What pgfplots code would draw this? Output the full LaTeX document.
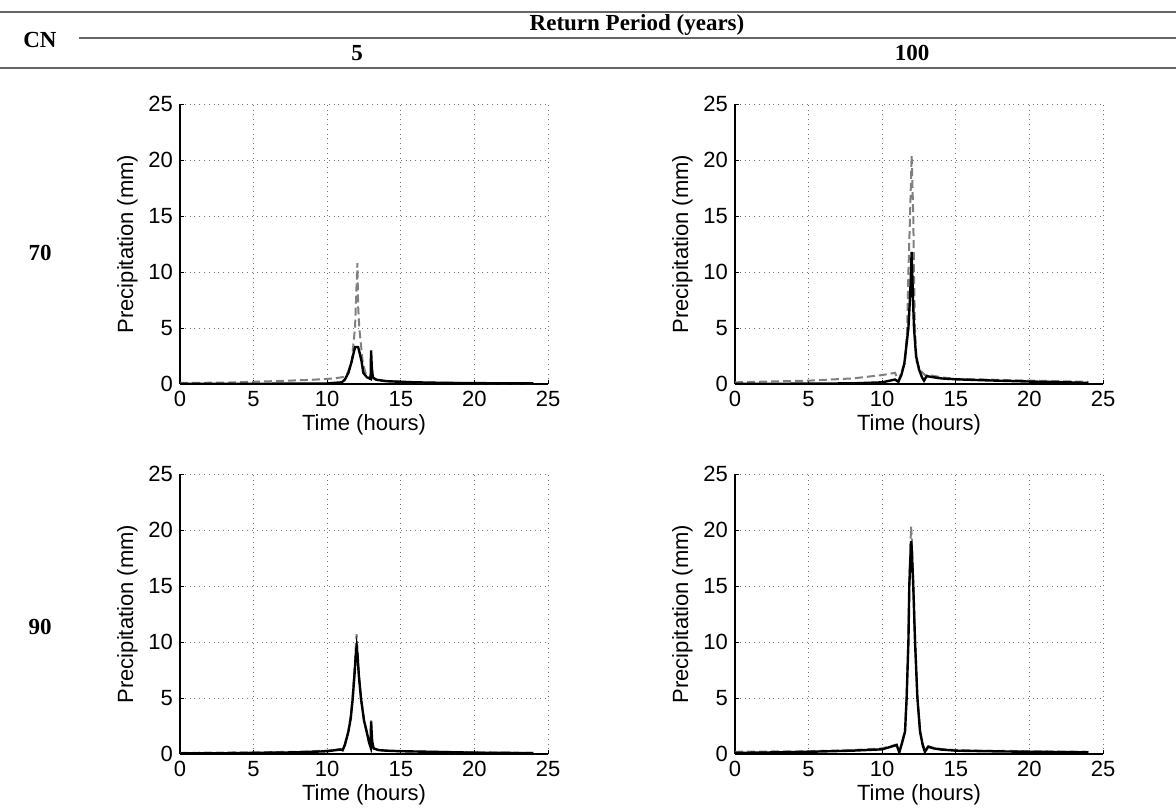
\documentclass[border=0pt]{standalone}
\usepackage{fontspec}
\setmainfont{Liberation Sans}
\newfontfamily\hdr{Liberation Serif}
\usepackage{pgfplots}
\pgfplotsset{compat=1.18}
\pgfplotsset{myax/.style={
  width=184pt,height=140pt,scale only axis,
  xmin=0,xmax=25,ymin=0,ymax=25,
  xtick={0,5,...,25}, ytick={0,5,...,25},
  grid=major, grid style={dotted, black!55, line width=0.5pt},
  axis lines*=left, axis line style={black, line width=0.6pt, -},
  tick align=inside, major tick length=2pt, tick style={black, line width=0.5pt},
  ticklabel style={font=\fontsize{11}{13}\selectfont},
  label style={font=\fontsize{11}{13}\selectfont},
  xlabel={Time (hours)}, ylabel={Precipitation (mm)},
  xlabel style={yshift=3pt},
  ylabel style={yshift=-1.5pt},
  /pgf/number format/assume math mode=true,
  anchor=south west,
},
obs/.style={black!50, line width=1pt, dash pattern=on 4pt off 2pt},
eff/.style={black, line width=1.2pt},
}
\begin{document}
\begin{tikzpicture}
\useasboundingbox (0,0) rectangle (588pt,-404.5pt);
% header table
\draw[black!60, line width=1pt] (0,-6pt) -- (588pt,-6pt);
\draw[black!60, line width=0.8pt] (39.5pt,-19pt) -- (588pt,-19pt);
\draw[black!60, line width=1pt] (0,-34pt) -- (588pt,-34pt);
\node[font=\hdr\bfseries\fontsize{11.5}{13}\selectfont] at (20pt,-20pt) {CN};
\node[font=\hdr\bfseries\fontsize{11.5}{13}\selectfont] at (318.5pt,-12.5pt) {Return Period (years)};
\node[font=\hdr\bfseries\fontsize{11.5}{13}\selectfont] at (178.5pt,-26.5pt) {5};
\node[font=\hdr\bfseries\fontsize{11.5}{13}\selectfont] at (456pt,-26.5pt) {100};
\node[font=\hdr\bfseries\fontsize{11.5}{13}\selectfont] at (20pt,-126.5pt) {70};
\node[font=\hdr\bfseries\fontsize{11.5}{13}\selectfont] at (20pt,-313.5pt) {90};

% CN 70, T 5
\begin{axis}[myax, at={(90pt,-192pt)}]
\addplot[obs] coordinates {(0,0.1) (3,0.12) (5,0.2) (7,0.28) (9,0.38) (10.5,0.5) (11.2,0.65) (11.4,1.0) (11.66,2) (11.89,5) (12.0,9) (12.05,10.8) (12.1,7) (12.18,5) (12.41,2) (12.6,1.0) (12.9,0.6) (13.2,0.45) (13.5,0.35) (14,0.28) (15,0.2) (16,0.15) (18,0.1) (20,0.08) (24,0.05)};
\addplot[eff] coordinates {(0,0.02) (5,0.02) (10,0.05) (11.0,0.15) (11.2,0.4) (11.44,1) (11.66,2) (11.8,2.8) (11.9,3.3) (12.1,3.3) (12.2,2.8) (12.34,2) (12.45,1) (12.7,0.6) (12.95,0.45) (12.98,3.0) (13.03,1.5) (13.1,0.6) (13.3,0.4) (13.5,0.35) (14,0.25) (15,0.2) (16,0.15) (18,0.1) (20,0.08) (22,0.06) (24,0.05)};
\end{axis}

% CN 70, T 100
\begin{axis}[myax, at={(367.5pt,-192pt)}]
\addplot[obs] coordinates {(0,0.15) (5,0.3) (8,0.5) (10,0.8) (10.87,1.0) (11.1,0.3) (11.3,1.0) (11.55,2) (11.7,5) (11.78,10) (11.89,15) (12.0,20.4) (12.11,15) (12.16,10) (12.22,5) (12.34,2) (12.6,1.2) (12.9,0.8) (13.2,0.8) (14,0.6) (15,0.45) (17,0.4) (20,0.3) (22,0.25) (24,0.2)};
\addplot[eff] coordinates {(0,0.02) (5,0.03) (8,0.06) (10,0.15) (10.87,0.4) (11.1,0.2) (11.3,0.8) (11.5,1.8) (11.65,3.5) (11.78,5) (11.9,8) (12.0,11.8) (12.08,8) (12.16,5) (12.3,2.5) (12.5,1.3) (12.7,0.6) (12.84,0.3) (13.02,0.7) (13.5,0.6) (14,0.5) (15,0.42) (17,0.33) (20,0.22) (22,0.17) (24,0.1)};
\end{axis}

% CN 90, T 5
\begin{axis}[myax, at={(90pt,-377pt)}]
\addplot[obs] coordinates {(0,0.1) (5,0.15) (8,0.2) (10,0.3) (10.9,0.45) (11.05,0.3) (11.2,0.9) (11.44,2.1) (11.6,3.4) (11.73,5.2) (11.85,7.5) (11.95,9.8) (12.0,10.7) (12.05,9.5) (12.15,7.2) (12.3,5) (12.5,3) (12.68,2) (12.85,1) (12.95,0.7) (12.98,3.0) (13.05,1.2) (13.15,0.5) (13.5,0.35) (14,0.3) (15,0.25) (17,0.2) (20,0.15) (24,0.1)};
\addplot[eff] coordinates {(0,0.05) (3,0.07) (5,0.1) (8,0.15) (10,0.25) (10.9,0.4) (11.05,0.36) (11.2,0.8) (11.44,2) (11.6,3.2) (11.73,4.9) (11.85,7) (11.95,9) (12.0,9.6) (12.05,9) (12.15,7) (12.3,4.9) (12.5,3) (12.68,2) (12.85,1.0) (12.95,0.6) (12.98,2.9) (13.05,1.2) (13.15,0.5) (13.5,0.35) (14,0.3) (15,0.25) (17,0.2) (20,0.12) (24,0.08)};
\end{axis}

% CN 90, T 100
\begin{axis}[myax, at={(367.5pt,-377pt)}]
\addplot[obs] coordinates {(0,0.2) (5,0.25) (8,0.35) (10,0.5) (10.98,0.85) (11.16,0.2) (11.35,1.1) (11.55,2.1) (11.66,5.2) (11.78,10.5) (11.84,15.5) (11.96,20.3) (12.0,19.5) (12.11,15.5) (12.23,10.5) (12.39,5.2) (12.57,2.1) (12.75,0.9) (12.9,0.3) (13.13,0.7) (13.5,0.55) (14,0.45) (15,0.35) (17,0.3) (20,0.25) (24,0.2)};
\addplot[eff] coordinates {(0,0.1) (3,0.15) (5,0.2) (8,0.3) (10,0.42) (10.98,0.8) (11.16,0.15) (11.35,1.0) (11.55,2) (11.66,5) (11.78,10) (11.84,15) (11.96,19) (12.0,18.5) (12.11,15) (12.23,10) (12.39,5) (12.57,2) (12.75,0.8) (12.9,0.2) (13.13,0.65) (13.5,0.5) (14,0.4) (15,0.3) (17,0.25) (20,0.2) (24,0.15)};
\end{axis}
\end{tikzpicture}
\end{document}
